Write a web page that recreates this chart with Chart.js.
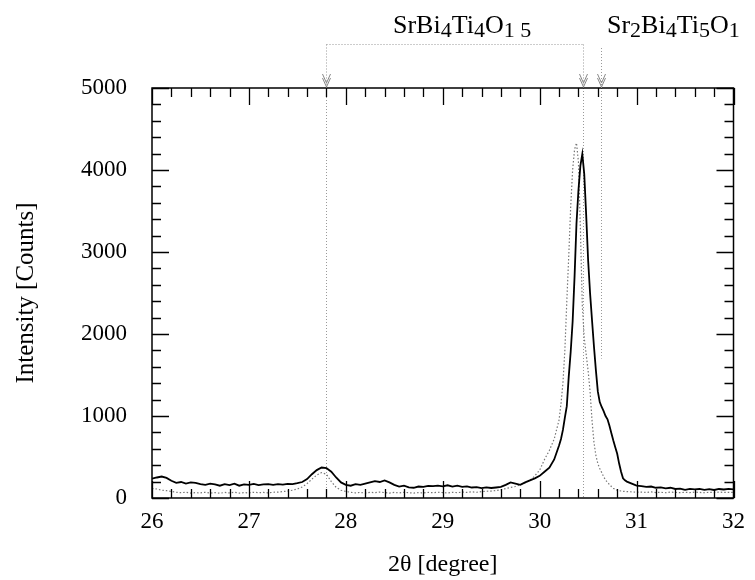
<!DOCTYPE html>
<html>
<head>
<meta charset="utf-8">
<script src="https://cdn.jsdelivr.net/npm/chart.js@4.4.1/dist/chart.umd.min.js"></script>
<style>
  body { margin: 0; background: #fff; }
</style>
</head>
<body>
<canvas id="xrd" width="755" height="580"></canvas>
<script>
// 2-theta positions (degree), denser around the main reflection
const twoTheta = [
  26.00, 26.05, 26.10, 26.15, 26.20, 26.25, 26.30, 26.35, 26.40, 26.45, 26.50, 26.55, 26.60, 26.65, 26.70, 26.75, 26.80, 26.85, 26.90, 26.95,
  27.00, 27.05, 27.10, 27.15, 27.20, 27.25, 27.30, 27.35, 27.40, 27.45, 27.50, 27.55, 27.60, 27.65, 27.70, 27.75, 27.80, 27.85, 27.90, 27.95,
  28.00, 28.05, 28.10, 28.15, 28.20, 28.25, 28.30, 28.35, 28.40, 28.45, 28.50, 28.55, 28.60, 28.65, 28.70, 28.75, 28.80, 28.85, 28.90, 28.95,
  29.00, 29.05, 29.10, 29.15, 29.20, 29.25, 29.30, 29.35, 29.40, 29.45, 29.50, 29.55, 29.60, 29.65, 29.70, 29.75, 29.80, 29.85, 29.90, 29.95,
  30.00, 30.05, 30.10, 30.15,
  30.20, 30.22, 30.24, 30.26, 30.28, 30.30, 30.32, 30.34, 30.36, 30.38, 30.40, 30.42, 30.44, 30.46, 30.48, 30.50, 30.52, 30.54,
  30.56, 30.58, 30.60, 30.62, 30.64, 30.66, 30.68, 30.70, 30.72, 30.74, 30.76, 30.78, 30.80, 30.82, 30.84, 30.86, 30.88, 30.90,
  30.95, 31.00, 31.05, 31.10, 31.15, 31.20, 31.25, 31.30, 31.35, 31.40, 31.45, 31.50, 31.55, 31.60, 31.65, 31.70, 31.75, 31.80, 31.85, 31.90, 31.95, 32.00
];

// solid black trace (counts)
const countsSolid = [
  235, 250, 262, 245, 210, 185, 195, 175, 190, 185, 170, 160, 175, 165, 150, 170, 158, 175, 150, 165,
  160, 172, 158, 165, 170, 160, 168, 162, 172, 170, 180, 195, 230, 290, 340, 372, 365, 320, 250, 190,
  160, 150, 170, 160, 175, 190, 205, 195, 215, 190, 160, 140, 150, 130, 125, 140, 135, 148, 145, 150,
  142, 155, 138, 150, 135, 142, 128, 132, 120, 130, 122, 128, 135, 160, 190, 175, 160, 190, 215, 240,
  270, 320, 370, 470,
  640, 720, 830, 980, 1120, 1480, 1780, 2150, 2700, 3350, 3750, 4050, 4195, 3950, 3450, 2900, 2500, 2170,
  1850, 1560, 1300, 1170, 1110, 1060, 1000, 960, 880, 790, 700, 620, 540, 420, 320, 240, 215, 200,
  175, 150, 145, 135, 140, 125, 130, 118, 125, 110, 115, 100, 112, 105, 110, 100, 108, 98, 110, 104, 112, 105
];

// dotted grey trace (counts)
const countsDotted = [
  115, 110, 95, 90, 80, 70, 65, 70, 60, 65, 62, 70, 60, 65, 58, 68, 62, 70, 60, 66,
  62, 70, 65, 68, 62, 70, 72, 78, 85, 95, 110, 135, 175, 230, 280, 310, 290, 200, 130, 95,
  80, 70, 62, 68, 60, 70, 65, 72, 66, 60, 68, 62, 70, 64, 60, 66, 62, 68, 64, 70,
  66, 62, 70, 65, 72, 68, 75, 70, 78, 82, 85, 92, 100, 115, 128, 140, 160, 185, 215, 270,
  340, 470, 580, 720,
  950, 1150, 1400, 1800, 2400, 2950, 3550, 4000, 4250, 4330, 4100, 3300, 2350, 1950, 1750, 1550, 1300, 950,
  680, 520, 420, 360, 310, 260, 220, 190, 165, 140, 120, 105, 95, 90, 85, 82, 80, 78,
  75, 70, 72, 68, 74, 66, 70, 64, 72, 68, 65, 70, 66, 72, 68, 64, 70, 66, 72, 68, 70, 68
];

// reference reflections marked on top
const peakMarks = [27.8, 30.445, 30.635];
const markFloor = [0, 0, 1700];

const xTicks = [26, 27, 28, 29, 30, 31, 32];
const yTicks = [0, 1000, 2000, 3000, 4000, 5000];

const serif = '"Liberation Serif", "Times New Roman", serif';

function toPoints(xs, ys) {
  return xs.map((v, i) => ({ x: v, y: ys[i] }));
}

// frame with inward ticks on all four sides
const frameTicks = {
  id: 'frameTicks',
  afterDatasetsDraw(chart) {
    const { ctx, chartArea: a, scales: { x, y } } = chart;
    ctx.save();
    ctx.strokeStyle = '#000';
    ctx.lineWidth = 1.5;
    ctx.strokeRect(a.left, a.top, a.right - a.left, a.bottom - a.top);
    ctx.lineWidth = 1.3;
    ctx.beginPath();
    for (let i = 0; i <= 30; i++) {
      const px = Math.round(x.getPixelForValue(26 + i * 0.2)) + 0.5;
      const len = i % 5 === 0 ? 17 : 9;
      ctx.moveTo(px, a.bottom); ctx.lineTo(px, a.bottom - len);
      ctx.moveTo(px, a.top); ctx.lineTo(px, a.top + len);
    }
    for (let i = 0; i <= 25; i++) {
      const py = Math.round(y.getPixelForValue(i * 200)) + 0.5;
      const len = i % 5 === 0 ? 17 : 9;
      ctx.moveTo(a.left, py); ctx.lineTo(a.left + len, py);
      ctx.moveTo(a.right, py); ctx.lineTo(a.right - len, py);
    }
    ctx.stroke();
    ctx.restore();
  }
};

function drawFormula(ctx, parts, x0, base) {
  let x = x0;
  ctx.textBaseline = 'alphabetic';
  ctx.textAlign = 'left';
  for (const [txt, sub] of parts) {
    ctx.font = (sub ? '22px ' : '26px ') + serif;
    ctx.fillText(txt, x, sub ? base + 4 : base);
    x += ctx.measureText(txt).width;
  }
}

function chevron(ctx, px, tip) {
  for (const dy of [0, -4]) {
    ctx.moveTo(px - 4, tip - 9 + dy);
    ctx.lineTo(px, tip + dy);
    ctx.lineTo(px + 4, tip - 9 + dy);
  }
}

// reflection markers, bracket and phase labels
const markers = {
  id: 'markers',
  beforeDatasetsDraw(chart) {
    const { ctx, chartArea: a, scales: { x, y } } = chart;
    ctx.save();
    ctx.strokeStyle = '#999';
    ctx.lineWidth = 1;
    ctx.setLineDash([1, 2]);
    ctx.beginPath();
    peakMarks.forEach((m, i) => {
      const px = Math.round(x.getPixelForValue(m)) + 0.5;
      ctx.moveTo(px, a.top);
      ctx.lineTo(px, y.getPixelForValue(markFloor[i]));
    });
    ctx.stroke();
    ctx.restore();
  },
  afterDraw(chart) {
    const { ctx, chartArea: a, scales: { x } } = chart;
    const p = peakMarks.map(m => Math.round(x.getPixelForValue(m)) + 0.5);
    ctx.save();
    ctx.strokeStyle = '#999';
    ctx.lineWidth = 1;
    ctx.setLineDash([1, 2]);
    ctx.beginPath();
    ctx.moveTo(p[0], 44.5); ctx.lineTo(p[1], 44.5);
    ctx.moveTo(p[0], 44.5); ctx.lineTo(p[0], a.top);
    ctx.moveTo(p[1], 44.5); ctx.lineTo(p[1], a.top);
    ctx.moveTo(p[2], 48); ctx.lineTo(p[2], a.top);
    ctx.stroke();
    ctx.setLineDash([]);
    ctx.strokeStyle = '#888';
    ctx.beginPath();
    p.forEach(px => chevron(ctx, px, a.top - 1));
    ctx.stroke();

    ctx.fillStyle = '#000';
    drawFormula(ctx, [['SrBi', 0], ['4', 1], ['Ti', 0], ['4', 1], ['O', 0], ['1 5', 1]], 393, 33);
    drawFormula(ctx, [['Sr', 0], ['2', 1], ['Bi', 0], ['4', 1], ['Ti', 0], ['5', 1], ['O', 0], ['1', 1]], 607, 33);
    ctx.restore();
  }
};

new Chart(document.getElementById('xrd'), {
  type: 'line',
  data: {
    datasets: [
      {
        label: 'solid',
        data: toPoints(twoTheta, countsSolid),
        borderColor: '#000',
        borderWidth: 1.8
      },
      {
        label: 'dotted',
        data: toPoints(twoTheta, countsDotted),
        borderColor: '#777',
        borderWidth: 1.2,
        borderDash: [1.5, 2]
      }
    ]
  },
  options: {
    responsive: false,
    animation: false,
    layout: { padding: { top: 88, right: 16, left: 0, bottom: 0 } },
    elements: { point: { radius: 0 }, line: { tension: 0 } },
    plugins: { legend: { display: false }, tooltip: { enabled: false } },
    scales: {
      x: {
        type: 'linear',
        min: 26,
        max: 32,
        grid: { display: false, drawTicks: false },
        border: { display: false },
        afterBuildTicks: s => { s.ticks = xTicks.map(v => ({ value: v })); },
        afterFit: s => { s.height = 82; },
        ticks: { color: '#000', font: { family: serif, size: 23 }, padding: 10, maxRotation: 0, callback: v => String(v) },
        title: { display: true, text: '2θ [degree]', color: '#000', font: { family: serif, size: 24 }, padding: { top: 0, bottom: 1 } }
      },
      y: {
        min: 0,
        max: 5000,
        grid: { display: false, drawTicks: false },
        border: { display: false },
        afterBuildTicks: s => { s.ticks = yTicks.map(v => ({ value: v })); },
        afterFit: s => { s.width = 152; },
        ticks: { color: '#000', font: { family: serif, size: 23 }, padding: 25, callback: v => String(v) },
        title: { display: true, text: 'Intensity [Counts]', color: '#000', font: { family: serif, size: 25 }, padding: { top: 11, bottom: 0 } }
      }
    }
  },
  plugins: [markers, frameTicks]
});
</script>
</body>
</html>
